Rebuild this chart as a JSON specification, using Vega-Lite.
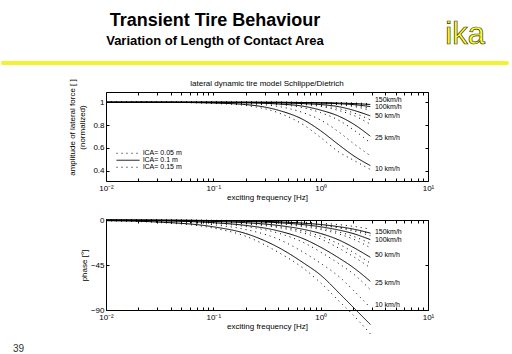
{
  "$schema": "https://vega.github.io/schema/vega-lite/v6.json",
  "padding": {"left": 0, "top": 12, "right": 0, "bottom": 0},
  "spacing": 13,
  "config": {
    "font": "Liberation Sans",
    "view": {"stroke": "black", "strokeWidth": 1},
    "axis": {"domain": false, "grid": false, "tickColor": "black", "tickSize": -3, "labelColor": "black", "titleColor": "black", "labelFontSize": 8, "titleFontSize": 8, "titleFontWeight": "normal", "labelFont": "Liberation Sans", "titleFont": "Liberation Sans"},
    "title": {"font": "Liberation Sans", "color": "black"}
  },
  "title": {"text": "Transient Tire Behaviour", "subtitle": "Variation of Length of Contact Area", "anchor": "middle", "frame": "group", "dx": -52, "dy": 29, "offset": 0, "fontSize": 18, "fontWeight": "bold", "subtitleFontSize": 13, "subtitleFontWeight": "bold", "subtitleColor": "black", "subtitleFont": "Liberation Sans", "subtitlePadding": 5},
  "resolve": {"legend": {"strokeDash": "independent"}},
  "datasets": {
    "curves": [
      {"f":0.01,"v":"10","lca":"0.1","amp":1,"phase":-0.7},{"f":0.03,"v":"10","lca":"0.1","amp":1,"phase":-2.0},{"f":0.1,"v":"10","lca":"0.1","amp":0.993,"phase":-6.8},{"f":0.2,"v":"10","lca":"0.1","amp":0.98,"phase":-13.5},{"f":0.4,"v":"10","lca":"0.1","amp":0.931,"phase":-27.2},{"f":0.7,"v":"10","lca":"0.1","amp":0.844,"phase":-43.3},{"f":1,"v":"10","lca":"0.1","amp":0.75,"phase":-55.1},{"f":1.5,"v":"10","lca":"0.1","amp":0.622,"phase":-73.5},{"f":2,"v":"10","lca":"0.1","amp":0.535,"phase":-87},{"f":2.9,"v":"10","lca":"0.1","amp":0.445,"phase":-104.4},
      {"f":0.01,"v":"10","lca":"0.05","amp":1,"phase":-0.5},{"f":0.03,"v":"10","lca":"0.05","amp":1,"phase":-1.5},{"f":0.1,"v":"10","lca":"0.05","amp":0.996,"phase":-4.7},{"f":0.2,"v":"10","lca":"0.05","amp":0.988,"phase":-9.5},{"f":0.4,"v":"10","lca":"0.05","amp":0.964,"phase":-19},{"f":0.7,"v":"10","lca":"0.05","amp":0.906,"phase":-32.6},{"f":1,"v":"10","lca":"0.05","amp":0.844,"phase":-43.3},{"f":1.5,"v":"10","lca":"0.05","amp":0.735,"phase":-57.1},{"f":2,"v":"10","lca":"0.05","amp":0.642,"phase":-69.9},{"f":2.9,"v":"10","lca":"0.05","amp":0.532,"phase":-87.6},
      {"f":0.01,"v":"10","lca":"0.15","amp":1,"phase":-0.8},{"f":0.03,"v":"10","lca":"0.15","amp":1,"phase":-2.4},{"f":0.1,"v":"10","lca":"0.15","amp":0.99,"phase":-8.1},{"f":0.2,"v":"10","lca":"0.15","amp":0.972,"phase":-16.2},{"f":0.4,"v":"10","lca":"0.15","amp":0.909,"phase":-32.1},{"f":0.7,"v":"10","lca":"0.15","amp":0.799,"phase":-48.8},{"f":1,"v":"10","lca":"0.15","amp":0.691,"phase":-62.9},{"f":1.5,"v":"10","lca":"0.15","amp":0.56,"phase":-81.6},{"f":2,"v":"10","lca":"0.15","amp":0.495,"phase":-94.8},{"f":2.9,"v":"10","lca":"0.15","amp":0.411,"phase":-113.8},
      {"f":0.01,"v":"25","lca":"0.1","amp":1,"phase":-0.3},{"f":0.03,"v":"25","lca":"0.1","amp":1,"phase":-0.8},{"f":0.1,"v":"25","lca":"0.1","amp":0.999,"phase":-2.7},{"f":0.2,"v":"25","lca":"0.1","amp":0.995,"phase":-5.4},{"f":0.4,"v":"25","lca":"0.1","amp":0.985,"phase":-10.8},{"f":0.7,"v":"25","lca":"0.1","amp":0.964,"phase":-19},{"f":1,"v":"25","lca":"0.1","amp":0.931,"phase":-27.2},{"f":1.5,"v":"25","lca":"0.1","amp":0.875,"phase":-38.4},{"f":2,"v":"25","lca":"0.1","amp":0.812,"phase":-47.3},{"f":2.9,"v":"25","lca":"0.1","amp":0.703,"phase":-61.3},
      {"f":0.01,"v":"25","lca":"0.05","amp":1,"phase":-0.2},{"f":0.03,"v":"25","lca":"0.05","amp":1,"phase":-0.6},{"f":0.1,"v":"25","lca":"0.05","amp":1,"phase":-1.9},{"f":0.2,"v":"25","lca":"0.05","amp":0.998,"phase":-3.8},{"f":0.4,"v":"25","lca":"0.05","amp":0.991,"phase":-7.5},{"f":0.7,"v":"25","lca":"0.05","amp":0.98,"phase":-13.2},{"f":1,"v":"25","lca":"0.05","amp":0.964,"phase":-19},{"f":1.5,"v":"25","lca":"0.05","amp":0.926,"phase":-28.6},{"f":2,"v":"25","lca":"0.05","amp":0.887,"phase":-36.3},{"f":2.9,"v":"25","lca":"0.05","amp":0.808,"phase":-47.8},
      {"f":0.01,"v":"25","lca":"0.15","amp":1,"phase":-0.3},{"f":0.03,"v":"25","lca":"0.15","amp":1,"phase":-1},{"f":0.1,"v":"25","lca":"0.15","amp":0.998,"phase":-3.3},{"f":0.2,"v":"25","lca":"0.15","amp":0.993,"phase":-6.5},{"f":0.4,"v":"25","lca":"0.15","amp":0.981,"phase":-13},{"f":0.7,"v":"25","lca":"0.15","amp":0.95,"phase":-22.8},{"f":1,"v":"25","lca":"0.15","amp":0.909,"phase":-32.1},{"f":1.5,"v":"25","lca":"0.15","amp":0.838,"phase":-44.1},{"f":2,"v":"25","lca":"0.15","amp":0.762,"phase":-53.6},{"f":2.9,"v":"25","lca":"0.15","amp":0.644,"phase":-69.6},
      {"f":0.01,"v":"50","lca":"0.1","amp":1,"phase":-0.1},{"f":0.03,"v":"50","lca":"0.1","amp":1,"phase":-0.4},{"f":0.1,"v":"50","lca":"0.1","amp":1,"phase":-1.4},{"f":0.2,"v":"50","lca":"0.1","amp":0.999,"phase":-2.7},{"f":0.4,"v":"50","lca":"0.1","amp":0.995,"phase":-5.4},{"f":0.7,"v":"50","lca":"0.1","amp":0.988,"phase":-9.5},{"f":1,"v":"50","lca":"0.1","amp":0.98,"phase":-13.5},{"f":1.5,"v":"50","lca":"0.1","amp":0.96,"phase":-20.3},{"f":2,"v":"50","lca":"0.1","amp":0.931,"phase":-27.2},{"f":2.9,"v":"50","lca":"0.1","amp":0.881,"phase":-37.3},
      {"f":0.01,"v":"50","lca":"0.05","amp":1,"phase":-0.1},{"f":0.03,"v":"50","lca":"0.05","amp":1,"phase":-0.3},{"f":0.1,"v":"50","lca":"0.05","amp":1,"phase":-1},{"f":0.2,"v":"50","lca":"0.05","amp":1,"phase":-1.9},{"f":0.4,"v":"50","lca":"0.05","amp":0.998,"phase":-3.8},{"f":0.7,"v":"50","lca":"0.05","amp":0.993,"phase":-6.7},{"f":1,"v":"50","lca":"0.05","amp":0.988,"phase":-9.5},{"f":1.5,"v":"50","lca":"0.05","amp":0.978,"phase":-14.2},{"f":2,"v":"50","lca":"0.05","amp":0.964,"phase":-19},{"f":2.9,"v":"50","lca":"0.05","amp":0.93,"phase":-27.7},
      {"f":0.01,"v":"50","lca":"0.15","amp":1,"phase":-0.2},{"f":0.03,"v":"50","lca":"0.15","amp":1,"phase":-0.5},{"f":0.1,"v":"50","lca":"0.15","amp":1,"phase":-1.6},{"f":0.2,"v":"50","lca":"0.15","amp":0.998,"phase":-3.3},{"f":0.4,"v":"50","lca":"0.15","amp":0.993,"phase":-6.5},{"f":0.7,"v":"50","lca":"0.15","amp":0.984,"phase":-11.4},{"f":1,"v":"50","lca":"0.15","amp":0.972,"phase":-16.2},{"f":1.5,"v":"50","lca":"0.15","amp":0.943,"phase":-24.4},{"f":2,"v":"50","lca":"0.15","amp":0.909,"phase":-32.1},{"f":2.9,"v":"50","lca":"0.15","amp":0.846,"phase":-43.1},
      {"f":0.01,"v":"100","lca":"0.1","amp":1,"phase":-0.1},{"f":0.03,"v":"100","lca":"0.1","amp":1,"phase":-0.2},{"f":0.1,"v":"100","lca":"0.1","amp":1,"phase":-0.7},{"f":0.2,"v":"100","lca":"0.1","amp":1,"phase":-1.4},{"f":0.4,"v":"100","lca":"0.1","amp":0.999,"phase":-2.7},{"f":0.7,"v":"100","lca":"0.1","amp":0.996,"phase":-4.7},{"f":1,"v":"100","lca":"0.1","amp":0.993,"phase":-6.8},{"f":1.5,"v":"100","lca":"0.1","amp":0.987,"phase":-10.2},{"f":2,"v":"100","lca":"0.1","amp":0.98,"phase":-13.5},{"f":2.9,"v":"100","lca":"0.1","amp":0.962,"phase":-19.6},
      {"f":0.01,"v":"100","lca":"0.05","amp":1,"phase":0},{"f":0.03,"v":"100","lca":"0.05","amp":1,"phase":-0.1},{"f":0.1,"v":"100","lca":"0.05","amp":1,"phase":-0.5},{"f":0.2,"v":"100","lca":"0.05","amp":1,"phase":-1},{"f":0.4,"v":"100","lca":"0.05","amp":1,"phase":-1.9},{"f":0.7,"v":"100","lca":"0.05","amp":0.998,"phase":-3.3},{"f":1,"v":"100","lca":"0.05","amp":0.996,"phase":-4.7},{"f":1.5,"v":"100","lca":"0.05","amp":0.992,"phase":-7.2},{"f":2,"v":"100","lca":"0.05","amp":0.988,"phase":-9.5},{"f":2.9,"v":"100","lca":"0.05","amp":0.979,"phase":-13.7},
      {"f":0.01,"v":"100","lca":"0.15","amp":1,"phase":-0.1},{"f":0.03,"v":"100","lca":"0.15","amp":1,"phase":-0.2},{"f":0.1,"v":"100","lca":"0.15","amp":1,"phase":-0.8},{"f":0.2,"v":"100","lca":"0.15","amp":1,"phase":-1.6},{"f":0.4,"v":"100","lca":"0.15","amp":0.998,"phase":-3.3},{"f":0.7,"v":"100","lca":"0.15","amp":0.995,"phase":-5.7},{"f":1,"v":"100","lca":"0.15","amp":0.99,"phase":-8.1},{"f":1.5,"v":"100","lca":"0.15","amp":0.983,"phase":-12.2},{"f":2,"v":"100","lca":"0.15","amp":0.972,"phase":-16.2},{"f":2.9,"v":"100","lca":"0.15","amp":0.946,"phase":-23.6},
      {"f":0.01,"v":"150","lca":"0.1","amp":1,"phase":0},{"f":0.03,"v":"150","lca":"0.1","amp":1,"phase":-0.1},{"f":0.1,"v":"150","lca":"0.1","amp":1,"phase":-0.5},{"f":0.2,"v":"150","lca":"0.1","amp":1,"phase":-0.9},{"f":0.4,"v":"150","lca":"0.1","amp":1,"phase":-1.8},{"f":0.7,"v":"150","lca":"0.1","amp":0.998,"phase":-3.2},{"f":1,"v":"150","lca":"0.1","amp":0.997,"phase":-4.5},{"f":1.5,"v":"150","lca":"0.1","amp":0.993,"phase":-6.8},{"f":2,"v":"150","lca":"0.1","amp":0.989,"phase":-9},{"f":2.9,"v":"150","lca":"0.1","amp":0.981,"phase":-13.1},
      {"f":0.01,"v":"150","lca":"0.05","amp":1,"phase":0},{"f":0.03,"v":"150","lca":"0.05","amp":1,"phase":-0.1},{"f":0.1,"v":"150","lca":"0.05","amp":1,"phase":-0.3},{"f":0.2,"v":"150","lca":"0.05","amp":1,"phase":-0.6},{"f":0.4,"v":"150","lca":"0.05","amp":1,"phase":-1.3},{"f":0.7,"v":"150","lca":"0.05","amp":1,"phase":-2.2},{"f":1,"v":"150","lca":"0.05","amp":0.998,"phase":-3.2},{"f":1.5,"v":"150","lca":"0.05","amp":0.996,"phase":-4.7},{"f":2,"v":"150","lca":"0.05","amp":0.994,"phase":-6.3},{"f":2.9,"v":"150","lca":"0.05","amp":0.988,"phase":-9.2},
      {"f":0.01,"v":"150","lca":"0.15","amp":1,"phase":-0.1},{"f":0.03,"v":"150","lca":"0.15","amp":1,"phase":-0.2},{"f":0.1,"v":"150","lca":"0.15","amp":1,"phase":-0.5},{"f":0.2,"v":"150","lca":"0.15","amp":1,"phase":-1.1},{"f":0.4,"v":"150","lca":"0.15","amp":1,"phase":-2.1},{"f":0.7,"v":"150","lca":"0.15","amp":0.998,"phase":-3.8},{"f":1,"v":"150","lca":"0.15","amp":0.995,"phase":-5.4},{"f":1.5,"v":"150","lca":"0.15","amp":0.99,"phase":-8.1},{"f":2,"v":"150","lca":"0.15","amp":0.985,"phase":-10.8},{"f":2.9,"v":"150","lca":"0.15","amp":0.974,"phase":-15.7}
    ],
    "labels": [
      {"label":"150km/h","f":3.2,"amp":1.02,"phase":-12.2},
      {"label":"100km/h","f":3.2,"amp":0.958,"phase":-19.6},
      {"label":"50 km/h","f":3.2,"amp":0.877,"phase":-35},
      {"label":"25 km/h","f":3.2,"amp":0.687,"phase":-62.7},
      {"label":"10 km/h","f":3.2,"amp":0.415,"phase":-85}
    ]
  },
  "vconcat": [
    {
      "width": 322,
      "height": 4,
      "view": {"stroke": null},
      "data": {"values": [{}]},
      "layer": [
        {
          "mark": {"type": "rule", "color": "#f2f22e", "strokeWidth": 4, "strokeCap": "round"},
          "encoding": {
            "x": {"datum": -0.32, "type": "quantitative", "scale": {"domain": [0, 1]}, "axis": null},
            "x2": {"datum": 1.245},
            "y": {"datum": 0.5, "type": "quantitative", "scale": {"domain": [0, 1]}, "axis": null}
          }
        },
        {
          "mark": {"type": "text", "text": "ika", "font": "Liberation Sans", "fontSize": 31, "fill": "#ffff33", "stroke": "#3a3a00", "strokeWidth": 0.7, "align": "right", "baseline": "alphabetic", "dy": -19},
          "encoding": {
            "x": {"datum": 1.177, "type": "quantitative"},
            "y": {"datum": 0.5, "type": "quantitative"}
          }
        }
      ]
    },
    {
      "width": 322,
      "height": 89,
      "title": {"text": "lateral dynamic tire model Schlippe/Dietrich", "fontSize": 8, "fontWeight": "normal", "font": "Liberation Sans", "offset": -9, "anchor": "middle"},
      "layer": [
        {
          "data": {"name": "curves"},
          "mark": {"type": "line", "color": "black", "strokeWidth": 1, "interpolate": "monotone"},
          "encoding": {
            "x": {"field": "f", "type": "quantitative", "scale": {"type": "log", "domain": [0.01, 10]},
              "axis": {"orient": "bottom", "values": [0.01,0.02,0.03,0.04,0.05,0.06,0.07,0.08,0.09,0.1,0.2,0.3,0.4,0.5,0.6,0.7,0.8,0.9,1,2,3,4,5,6,7,8,9,10],
                "labelExpr": "datum.value == 0.01 ? '10⁻²' : datum.value == 0.1 ? '10⁻¹' : datum.value == 1 ? '10⁰' : datum.value == 10 ? '10¹' : ''",
                "labelOverlap": false, "labelFlush": false, "labelPadding": 6, "title": "exciting frequency [Hz]", "titlePadding": 1}},
            "y": {"field": "amp", "type": "quantitative", "scale": {"domain": [0.31, 1.09], "nice": false, "zero": false},
              "axis": {"orient": "left", "values": [0.4, 0.6, 0.8, 1], "format": "~g", "labelPadding": 5, "title": ["amplitude of lateral force [ ]", "(normalized)"], "titlePadding": 6, "titleY": 35}},
            "detail": {"field": "v"},
            "strokeDash": {"field": "lca", "type": "nominal", "scale": {"domain": ["0.05", "0.1", "0.15"], "range": [[1, 4], [1, 0], [1, 4]]},
              "legend": {"orient": "bottom-left", "offset": 10, "title": null, "labelExpr": "'lCA= ' + datum.label + ' m'", "symbolType": "M-1,0H1", "symbolSize": 529, "symbolStrokeWidth": 1, "symbolStrokeColor": "black", "labelFontSize": 7, "labelFont": "Liberation Sans", "labelOffset": 3, "clipHeight": 6.5, "rowPadding": -2, "padding": 0}}
          }
        },
        {
          "data": {"name": "labels"},
          "mark": {"type": "text", "align": "left", "baseline": "middle", "fontSize": 7, "font": "Liberation Sans", "color": "black"},
          "encoding": {
            "x": {"field": "f", "type": "quantitative", "axis": {"orient": "top", "values": [0.01,0.02,0.03,0.04,0.05,0.06,0.07,0.08,0.09,0.1,0.2,0.3,0.4,0.5,0.6,0.7,0.8,0.9,1,2,3,4,5,6,7,8,9,10], "labels": false, "title": null, "minExtent": 0, "maxExtent": 0}},
            "y": {"field": "amp", "type": "quantitative", "axis": {"orient": "right", "values": [0.4, 0.6, 0.8, 1], "labels": false, "title": null, "minExtent": 0, "maxExtent": 0}},
            "text": {"field": "label"}
          }
        }
      ]
    },
    {
      "width": 322,
      "height": 90,
      "title": {"text": "39", "orient": "bottom", "anchor": "start", "frame": "group", "dx": -93, "offset": 8, "fontSize": 10, "fontWeight": "normal", "color": "#333333"},
      "layer": [
        {
          "data": {"name": "curves"},
          "mark": {"type": "line", "color": "black", "strokeWidth": 1, "interpolate": "monotone"},
          "encoding": {
            "x": {"field": "f", "type": "quantitative", "scale": {"type": "log", "domain": [0.01, 10]},
              "axis": {"orient": "bottom", "values": [0.01,0.02,0.03,0.04,0.05,0.06,0.07,0.08,0.09,0.1,0.2,0.3,0.4,0.5,0.6,0.7,0.8,0.9,1,2,3,4,5,6,7,8,9,10],
                "labelExpr": "datum.value == 0.01 ? '10⁻²' : datum.value == 0.1 ? '10⁻¹' : datum.value == 1 ? '10⁰' : datum.value == 10 ? '10¹' : ''",
                "labelOverlap": false, "labelFlush": false, "labelPadding": 6, "title": "exciting frequency [Hz]", "titlePadding": 1}},
            "y": {"field": "phase", "type": "quantitative", "scale": {"domain": [-90, 0], "nice": false, "zero": false},
              "axis": {"orient": "left", "values": [-90, -45, 0], "labelPadding": 5, "title": "phase [°]", "titlePadding": 2}},
            "detail": {"field": "v"},
            "strokeDash": {"field": "lca", "type": "nominal", "scale": {"domain": ["0.05", "0.1", "0.15"], "range": [[1, 4], [1, 0], [1, 4]]}, "legend": null}
          }
        },
        {
          "data": {"name": "labels"},
          "mark": {"type": "text", "align": "left", "baseline": "middle", "fontSize": 7, "font": "Liberation Sans", "color": "black"},
          "encoding": {
            "x": {"field": "f", "type": "quantitative", "axis": {"orient": "top", "values": [0.01,0.02,0.03,0.04,0.05,0.06,0.07,0.08,0.09,0.1,0.2,0.3,0.4,0.5,0.6,0.7,0.8,0.9,1,2,3,4,5,6,7,8,9,10], "labels": false, "title": null, "minExtent": 0, "maxExtent": 0}},
            "y": {"field": "phase", "type": "quantitative", "axis": {"orient": "right", "values": [-90, -45, 0], "labels": false, "title": null, "minExtent": 0, "maxExtent": 0}},
            "text": {"field": "label"}
          }
        }
      ]
    }
  ]
}
